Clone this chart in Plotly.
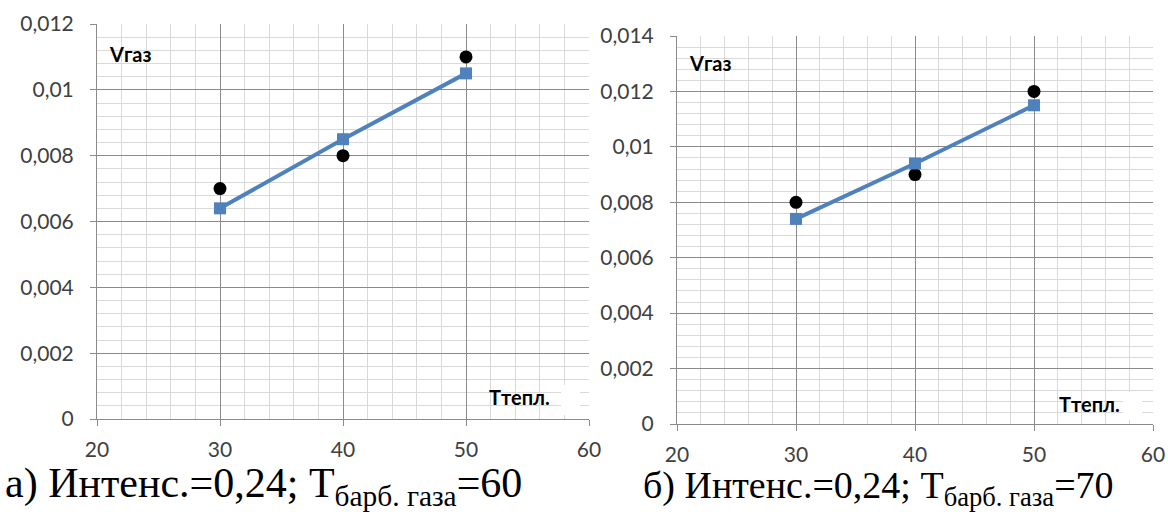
import plotly.graph_objects as go

# ---- data ----
x_vals = [30, 40, 50]
a_line = [0.0064, 0.0085, 0.0105]
a_dots = [0.0070, 0.0080, 0.0110]
b_line = [0.0074, 0.0094, 0.0115]
b_dots = [0.0080, 0.0090, 0.0120]

x_ticks = [20, 30, 40, 50, 60]
a_yticks = [0, 0.002, 0.004, 0.006, 0.008, 0.01, 0.012]
a_yticktext = ["0", "0,002", "0,004", "0,006", "0,008", "0,01", "0,012"]
b_yticks = [0, 0.002, 0.004, 0.006, 0.008, 0.01, 0.012, 0.014]
b_yticktext = ["0", "0,002", "0,004", "0,006", "0,008", "0,01", "0,012", "0,014"]

cap_a = "а) Интенс.=0,24; Т<sub>барб. газа</sub>=60"
cap_b = "б) Интенс.=0,24; Т<sub>барб. газа</sub>=70"

W, H = 1168, 512
BLUE = "#4F81BD"
TICKFONT = dict(family="Lato, Open Sans, sans-serif", size=21, color="#404040")

fig = go.Figure()

def add_panel(xa, ya, line_vals, dot_vals):
    fig.add_trace(go.Scatter(x=x_vals, y=dot_vals, mode="markers",
                             marker=dict(color="black", size=13, symbol="circle"),
                             xaxis=xa, yaxis=ya, showlegend=False, hoverinfo="skip"))
    fig.add_trace(go.Scatter(x=x_vals, y=line_vals, mode="lines+markers",
                             line=dict(color=BLUE, width=4),
                             marker=dict(color=BLUE, size=12, symbol="square"),
                             xaxis=xa, yaxis=ya, showlegend=False, hoverinfo="skip"))

add_panel("x", "y", a_line, a_dots)
add_panel("x2", "y2", b_line, b_dots)

def px_x(p):
    return p / W

def px_y(p):
    return 1 - p / H

xcommon = dict(range=[20, 60], tickvals=x_ticks, showgrid=True, gridcolor="#8a8a8a", gridwidth=1,
               minor=dict(dtick=2, tick0=20, showgrid=True, gridcolor="#d9d9d9", gridwidth=1),
               showline=True, linecolor="#8a8a8a", ticks="outside", ticklen=6, tickcolor="#8a8a8a",
               tickfont=TICKFONT, zeroline=False, fixedrange=True, automargin=False,
               ticklabelstandoff=6)
ycommon = dict(showgrid=True, gridcolor="#8a8a8a", gridwidth=1,
               showline=True, linecolor="#8a8a8a", ticks="outside", ticklen=6, tickcolor="#8a8a8a",
               tickfont=TICKFONT, zeroline=False, fixedrange=True, ticklabelstandoff=12,
               automargin=False)

fig.update_layout(
    width=W, height=H, margin=dict(l=0, r=0, t=0, b=0, autoexpand=False),
    paper_bgcolor="white", plot_bgcolor="white", hovermode=False,
    xaxis=dict(domain=[px_x(97), px_x(589)], anchor="y", **xcommon),
    yaxis=dict(domain=[px_y(419), px_y(24)], anchor="x", range=[0, 0.012],
               tickvals=a_yticks, ticktext=a_yticktext,
               minor=dict(dtick=0.0004, tick0=0, showgrid=True, gridcolor="#d9d9d9", gridwidth=1),
               **ycommon),
    xaxis2=dict(domain=[px_x(677), px_x(1153)], anchor="y2", **xcommon),
    yaxis2=dict(domain=[px_y(424), px_y(36)], anchor="x2", range=[0, 0.014],
                tickvals=b_yticks, ticktext=b_yticktext,
                minor=dict(dtick=0.0004, tick0=0, showgrid=True, gridcolor="#d9d9d9", gridwidth=1),
                **ycommon),
)

LBL = dict(family="Lato, Open Sans, sans-serif", size=20, color="black")
anns = [
    dict(text="<b>Vгаз</b>", x=px_x(107), y=px_y(54), xanchor="left", yanchor="middle"),
    dict(text="<b>Tтепл.</b>", x=px_x(487), y=px_y(397), xanchor="left", yanchor="middle"),
    dict(text="<b>Vгаз</b>", x=px_x(687), y=px_y(63), xanchor="left", yanchor="middle"),
    dict(text="<b>Tтепл.</b>", x=px_x(1057), y=px_y(404), xanchor="left", yanchor="middle"),
]
for a in anns:
    fig.add_annotation(xref="paper", yref="paper", showarrow=False, font=LBL, **a)

fig.add_annotation(text=cap_a, xref="paper", yref="paper", x=px_x(3), y=px_y(514),
                   xanchor="left", yanchor="bottom", showarrow=False,
                   font=dict(family="Liberation Serif, Times New Roman, serif", size=42, color="black"))
fig.add_annotation(text=cap_b, xref="paper", yref="paper", x=px_x(641), y=px_y(514),
                   xanchor="left", yanchor="bottom", showarrow=False,
                   font=dict(family="Liberation Serif, Times New Roman, serif", size=38, color="black"))

# white patches right of the axis label (as in the reference)
fig.add_shape(type="rect", xref="paper", yref="paper", x0=px_x(561), x1=px_x(580),
              y0=px_y(415), y1=px_y(385), fillcolor="white", line=dict(width=0), layer="above")
fig.add_shape(type="rect", xref="paper", yref="paper", x0=px_x(1123), x1=px_x(1142),
              y0=px_y(420), y1=px_y(392), fillcolor="white", line=dict(width=0), layer="above")

fig.write_html("out.html", config={"displayModeBar": False, "staticPlot": True},
               post_script="document.body.style.margin='0';document.body.style.overflow='hidden';")
